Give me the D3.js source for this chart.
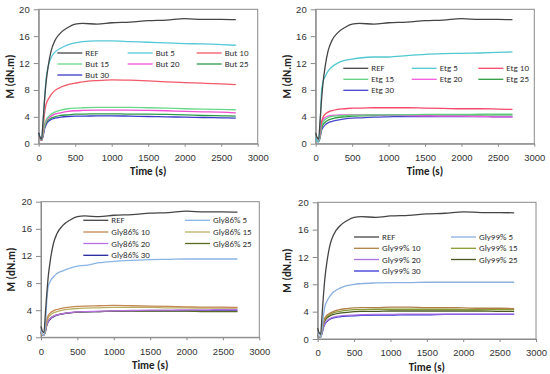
<!DOCTYPE html>
<html>
<head>
<meta charset="utf-8">
<script src="https://cdn.jsdelivr.net/npm/d3@7"></script>
<style>
  body { margin: 0; background: #fff; }
  svg { display: block; font-family: Carlito, Calibri, Lato, sans-serif; }
</style>
</head>
<body>
<div id="chart"></div>
<script>
// Time axis sample points (s)
var time = [0, 20, 40, 60, 80, 100, 130, 170, 220, 300, 400, 500, 600, 800, 1000, 1250, 1500, 1750, 2000, 2250, 2500, 2700];

// Reference curve, shared by all four panels
var ref = [1.6, 0.9, 0.7, 3.5, 6.5, 9, 11.5, 13.8, 15.3, 16.5, 17.3, 17.8, 17.9, 17.8, 18.0, 18.1, 18.3, 18.4, 18.6, 18.5, 18.5, 18.45];

// Butanol panel
var butLabels = ["REF", "But 5", "But 10", "But 15", "But 20", "But 25", "But 30"];
var but5  = [1.4, 0.8, 0.6, 3, 6.5, 9.5, 11.5, 12.8, 13.6, 14.2, 14.7, 15.0, 15.2, 15.3, 15.3, 15.2, 15.1, 15.0, 14.9, 14.85, 14.75, 14.65];
var but10 = [1.2, 0.7, 0.5, 2, 4.5, 5.8, 6.6, 7.3, 7.9, 8.4, 8.8, 9.0, 9.2, 9.4, 9.5, 9.45, 9.35, 9.2, 9.1, 9.0, 8.9, 8.8];
var but15 = [1.2, 0.7, 0.5, 1.5, 2.8, 3.5, 4.0, 4.4, 4.7, 5.0, 5.2, 5.3, 5.35, 5.4, 5.4, 5.4, 5.35, 5.3, 5.2, 5.15, 5.1, 5.05];
var but20 = [1.2, 0.7, 0.5, 1.4, 2.6, 3.3, 3.8, 4.1, 4.4, 4.6, 4.8, 4.9, 4.95, 5.0, 5.0, 5.0, 4.95, 4.9, 4.8, 4.75, 4.7, 4.6];
var but25 = [1.3, 0.7, 0.5, 1.3, 2.4, 3.0, 3.5, 3.8, 4.0, 4.2, 4.3, 4.4, 4.4, 4.45, 4.45, 4.4, 4.4, 4.35, 4.3, 4.2, 4.15, 4.1];
var but30 = [1.6, 0.8, 0.5, 1.1, 2.2, 2.8, 3.3, 3.6, 3.8, 3.95, 4.05, 4.1, 4.1, 4.15, 4.15, 4.1, 4.05, 4.0, 3.95, 3.9, 3.85, 3.8];

// Ethylene glycol panel
var etgLabels = ["REF", "Etg 5", "Etg 10", "Etg 15", "Etg 20", "Etg 25", "Etg 30"];
var etg5  = [1.0, 0.4, 0.3, 2.5, 7.8, 9.2, 10.0, 10.8, 11.4, 12.0, 12.4, 12.6, 12.75, 12.9, 12.9, 13.1, 13.3, 13.4, 13.45, 13.5, 13.6, 13.65];
var etg10 = [1.0, 0.5, 0.4, 1.5, 3.2, 3.9, 4.4, 4.7, 4.9, 5.1, 5.2, 5.3, 5.3, 5.35, 5.35, 5.35, 5.3, 5.25, 5.2, 5.2, 5.15, 5.1];
var etg15 = [0.8, 0.4, 0.3, 1.2, 2.6, 3.2, 3.6, 3.9, 4.05, 4.15, 4.2, 4.25, 4.25, 4.3, 4.3, 4.3, 4.35, 4.35, 4.35, 4.4, 4.4, 4.4];
var etg20 = [0.8, 0.4, 0.3, 1.3, 3.0, 3.6, 3.9, 4.1, 4.2, 4.25, 4.3, 4.3, 4.3, 4.3, 4.25, 4.2, 4.15, 4.1, 4.1, 4.05, 4.0, 4.0];
var etg25 = [0.8, 0.4, 0.3, 1.0, 2.3, 2.8, 3.2, 3.5, 3.7, 3.9, 4.0, 4.1, 4.15, 4.2, 4.25, 4.25, 4.25, 4.3, 4.3, 4.3, 4.3, 4.3];
var etg30 = [0.8, 0.4, 0.3, 0.9, 2.0, 2.4, 2.8, 3.1, 3.3, 3.5, 3.7, 3.8, 3.85, 3.95, 4.0, 4.05, 4.05, 4.05, 4.05, 4.05, 4.0, 4.0];

// Glycerol 86% panel
var gly86Labels = ["REF", "Gly86% 5", "Gly86% 10", "Gly86% 15", "Gly86% 20", "Gly86% 25", "Gly86% 30"];
var gly86_5  = [1.0, 0.4, 0.3, 1.5, 5.5, 7.5, 8.3, 8.9, 9.4, 9.8, 10.2, 10.5, 10.6, 11.0, 11.2, 11.35, 11.45, 11.5, 11.55, 11.55, 11.55, 11.55];
var gly86_10 = [0.8, 0.3, 0.3, 1.2, 2.6, 3.2, 3.6, 3.9, 4.1, 4.3, 4.45, 4.55, 4.6, 4.65, 4.7, 4.65, 4.6, 4.55, 4.5, 4.45, 4.45, 4.4];
var gly86_15 = [0.8, 0.3, 0.3, 1.1, 2.3, 2.9, 3.3, 3.6, 3.8, 4.0, 4.15, 4.25, 4.3, 4.35, 4.4, 4.4, 4.4, 4.35, 4.35, 4.3, 4.3, 4.3];
var gly86_20 = [0.8, 0.3, 0.3, 0.9, 1.9, 2.4, 2.8, 3.1, 3.3, 3.5, 3.65, 3.75, 3.8, 3.85, 3.9, 3.95, 4.0, 4.0, 4.05, 4.05, 4.1, 4.1];
var gly86_25 = [0.8, 0.3, 0.3, 0.9, 1.9, 2.4, 2.8, 3.1, 3.3, 3.5, 3.65, 3.7, 3.75, 3.8, 3.85, 3.85, 3.85, 3.85, 3.85, 3.8, 3.8, 3.8];
var gly86_30 = [0.8, 0.3, 0.3, 0.8, 1.8, 2.3, 2.7, 3.0, 3.25, 3.45, 3.6, 3.7, 3.75, 3.8, 3.85, 3.9, 3.9, 3.9, 3.9, 3.9, 3.9, 3.9];

// Glycerol 99% panel
var gly99Labels = ["REF", "Gly99% 5", "Gly99% 10", "Gly99% 15", "Gly99% 20", "Gly99% 25", "Gly99% 30"];
var gly99_5  = [1.0, 0.4, 0.3, 1.3, 3.5, 4.8, 5.6, 6.3, 6.9, 7.4, 7.8, 8.0, 8.1, 8.2, 8.25, 8.25, 8.3, 8.3, 8.3, 8.3, 8.3, 8.3];
var gly99_10 = [0.8, 0.3, 0.3, 1.2, 2.5, 3.1, 3.5, 3.8, 4.05, 4.3, 4.45, 4.55, 4.6, 4.6, 4.65, 4.65, 4.6, 4.6, 4.55, 4.5, 4.5, 4.45];
var gly99_15 = [0.8, 0.3, 0.3, 1.1, 2.3, 2.9, 3.3, 3.6, 3.85, 4.05, 4.2, 4.3, 4.3, 4.35, 4.35, 4.35, 4.35, 4.35, 4.3, 4.3, 4.3, 4.3];
var gly99_20 = [0.8, 0.3, 0.3, 0.9, 1.8, 2.3, 2.7, 3.0, 3.2, 3.35, 3.45, 3.5, 3.55, 3.6, 3.6, 3.65, 3.65, 3.65, 3.65, 3.65, 3.65, 3.65];
var gly99_25 = [0.8, 0.3, 0.3, 1.0, 2.1, 2.7, 3.1, 3.4, 3.6, 3.8, 3.9, 4.0, 4.05, 4.05, 4.1, 4.1, 4.1, 4.1, 4.1, 4.1, 4.05, 4.05];
var gly99_30 = [0.8, 0.3, 0.3, 0.8, 1.7, 2.2, 2.6, 2.9, 3.1, 3.25, 3.35, 3.4, 3.45, 3.5, 3.5, 3.55, 3.55, 3.6, 3.6, 3.6, 3.6, 3.6];

var xTicks = [0, 500, 1000, 1500, 2000, 2500, 3000];
var yTicks = [0, 4, 8, 12, 16, 20];

var panels = [
  { labels: butLabels, series: [ref, but5, but10, but15, but20, but25, but30],
    colors: ["#454545", "#55c8d8", "#f25a6a", "#6ad88a", "#f24fd2", "#2f9a4a", "#3c3cc8"],
    box: {l: 38.7, t: 9.3, r: 257.7, b: 143.7}, cols: [57.3, 127.7, 196.7], rows: [53, 64, 75], yTitleX: 10 },
  { labels: etgLabels, series: [ref, etg5, etg10, etg15, etg20, etg25, etg30],
    colors: ["#454545", "#50c8d0", "#f5486a", "#5ed27e", "#f55ae0", "#2e9a44", "#4848cc"],
    box: {l: 315.7, t: 9.3, r: 534.3, b: 143.7}, cols: [343.3, 411.7, 478.3], rows: [68.3, 79.3, 90.3], yTitleX: 286.7 },
  { labels: gly86Labels, series: [ref, gly86_5, gly86_10, gly86_15, gly86_20, gly86_25, gly86_30],
    colors: ["#454545", "#8ab4e6", "#c48850", "#b8b060", "#b870e0", "#5a6a22", "#2424a0"],
    box: {l: 41, t: 201.7, r: 259.3, b: 337.3}, cols: [83.3, 185], rows: [220.3, 232, 243.5, 255.3], yTitleX: 11 },
  { labels: gly99Labels, series: [ref, gly99_5, gly99_10, gly99_15, gly99_20, gly99_25, gly99_30],
    colors: ["#454545", "#8ab0e0", "#b08048", "#8a9a34", "#a874e0", "#4a5a22", "#3434d4"],
    box: {l: 317.7, t: 202.3, r: 536, b: 339}, cols: [354, 451], rows: [237, 248.3, 259.5, 271], yTitleX: 287 }
];

var svg = d3.select("#chart").append("svg")
    .attr("width", 550)
    .attr("height", 374);

panels.forEach(function(p) {
  var x = d3.scaleLinear().domain([0, 3000]).range([p.box.l, p.box.r]);
  var y = d3.scaleLinear().domain([0, 20]).range([p.box.b, p.box.t]);

  var g = svg.append("g");

  // plot frame
  g.append("rect")
      .attr("x", p.box.l).attr("y", p.box.t)
      .attr("width", p.box.r - p.box.l).attr("height", p.box.b - p.box.t)
      .attr("fill", "none").attr("stroke", "#8a8a8a").attr("stroke-width", 1);

  var yAxis = g.append("g")
      .attr("transform", "translate(" + p.box.l + ",0)")
      .call(d3.axisLeft(y).tickValues(yTicks).tickFormat(d3.format("d"))
        .tickSize(5).tickSizeOuter(0).tickPadding(4));

  var xAxis = g.append("g")
      .attr("transform", "translate(0," + p.box.b + ")")
      .call(d3.axisBottom(x).tickValues(xTicks).tickFormat(d3.format("d"))
        .tickSize(3).tickSizeOuter(0).tickPadding(7.5));

  [xAxis, yAxis].forEach(function(a) {
    a.select(".domain").attr("stroke", "#8a8a8a");
    a.selectAll(".tick line").attr("stroke", "#8a8a8a");
    a.selectAll(".tick text").attr("fill", "#333").style("font-size", "9.5px");
  });

  // axis titles
  g.append("text")
      .attr("x", (p.box.l + p.box.r) / 2)
      .attr("y", p.box.b + 31.5)
      .attr("text-anchor", "middle")
      .style("font-size", "11px").style("font-weight", "bold").attr("fill", "#222")
      .text("Time (s)");

  g.append("text")
      .attr("transform", "translate(" + p.yTitleX + "," + ((p.box.t + p.box.b) / 2) + ") rotate(-90)")
      .attr("text-anchor", "middle")
      .attr("dy", "0.35em")
      .style("font-size", "11px").style("font-weight", "bold").attr("fill", "#222")
      .text("M (dN.m)");

  var line = d3.line()
      .x(function(d, i) { return x(time[i]); })
      .y(function(d) { return y(d); })
      .curve(d3.curveMonotoneX);

  // draw series back to front so REF sits on top
  p.series.slice().reverse().forEach(function(s, k) {
    var i = p.series.length - 1 - k;
    g.append("path")
        .datum(s)
        .attr("fill", "none")
        .attr("stroke", p.colors[i])
        .attr("stroke-width", 1.3)
        .attr("d", line);
  });

  // legend
  var nc = p.cols.length;
  p.labels.forEach(function(lab, i) {
    var cx = p.cols[i % nc], cy = p.rows[Math.floor(i / nc)];
    g.append("line")
        .attr("x1", cx).attr("x2", cx + 25)
        .attr("y1", cy).attr("y2", cy)
        .attr("stroke", p.colors[i]).attr("stroke-width", 1.3);
    g.append("text")
        .attr("x", cx + 28).attr("y", cy)
        .attr("dy", "0.35em")
        .style("font-size", "9px").attr("fill", "#333")
        .text(lab);
  });
});
</script>
</body>
</html>
